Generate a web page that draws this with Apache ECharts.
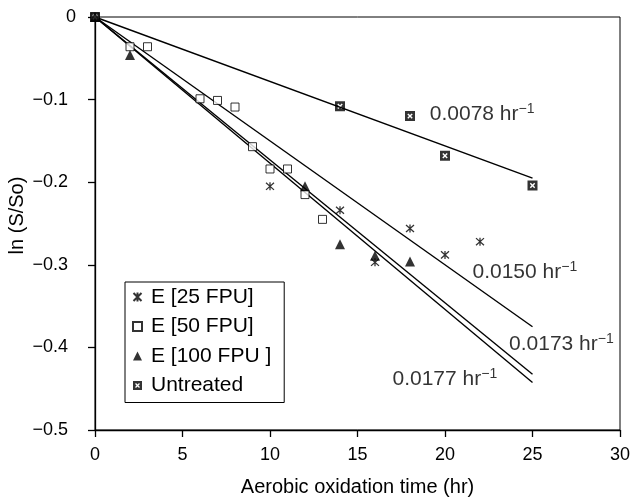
<!DOCTYPE html>
<html><head><meta charset="utf-8">
<script src="https://cdn.jsdelivr.net/npm/echarts@6/dist/echarts.min.js"></script>
<style>html,body{margin:0;padding:0;background:#fff}#c{width:632px;height:500px}</style>
</head><body><div id="c"></div>
<script>
// Data
const seriesNames = ['E [25 FPU]', 'E [50 FPU]', 'E [100 FPU ]', 'Untreated'];
const fpu25X = [0, 10, 14, 16, 18, 20, 22];
const fpu25Y = [0, -0.205, -0.234, -0.297, -0.256, -0.288, -0.272];
const fpu50X = [0, 2, 3, 6, 7, 8, 9, 10, 11, 12, 13];
const fpu50Y = [0, -0.036, -0.036, -0.099, -0.101, -0.109, -0.157, -0.184, -0.184, -0.215, -0.245];
const fpu100X = [0, 2, 12, 14, 16, 18];
const fpu100Y = [0, -0.046, -0.205, -0.275, -0.289, -0.296];
const untreatedX = [0, 14, 18, 20, 25];
const untreatedY = [0, -0.108, -0.120, -0.168, -0.204];
// Fitted lines: from (0,0) to (25, end value)
const fitStartX = 0, fitStartY = 0, fitEndX = 25;
const fitEndY = [-0.195, -0.375, -0.4325, -0.4425];
const fitRates = ['0.0078', '0.0150', '0.0173', '0.0177'];
const fitLabelX = [19.13, 21.57, 23.66, 17.0];
const fitLabelY = [-0.118, -0.309, -0.396, -0.438];
const xTickMin = 0, xTickMax = 30, xTickStep = 5;
const yTickMin = -0.5, yTickMax = 0, yTickStep = 0.1;

const FONT = 'Liberation Sans, Arial, sans-serif';
const zip = (xs, ys) => xs.map((x, i) => [x, ys[i]]);

const asteriskPath = 'path://M0 0L8 8M8 0L0 8M4 -0.5L4 8.5';
const untreatedPath = 'path://M0 0L10 0L10 10L0 10Z M4 5L2.3 6.7L3.3 7.7L5 6L6.7 7.7L7.7 6.7L6 5L7.7 3.3L6.7 2.3L5 4L3.3 2.3L2.3 3.3Z';

const series = [];
fitEndY.forEach((ey, i) => {
  series.push({
    type: 'line', name: 'fit' + i, data: [[fitStartX, fitStartY], [fitEndX, ey]],
    showSymbol: false, symbol: 'none', silent: true, z: 1,
    lineStyle: { color: '#000', width: 1.4 }
  });
});
series.push({
  type: 'scatter', name: seriesNames[0], data: zip(fpu25X, fpu25Y), z: 3,
  symbol: asteriskPath, symbolSize: 8,
  itemStyle: { color: 'rgba(0,0,0,0)', borderColor: '#000', borderWidth: 1.3 }
});
series.push({
  type: 'scatter', name: seriesNames[1], data: zip(fpu50X, fpu50Y), z: 3,
  symbol: 'rect', symbolSize: 8,
  itemStyle: { color: '#fff', borderColor: '#000', borderWidth: 1 }
});
series.push({
  type: 'scatter', name: seriesNames[2], data: zip(fpu100X, fpu100Y), z: 4,
  symbol: 'triangle', symbolSize: 10,
  itemStyle: { color: '#000' }
});
series.push({
  type: 'scatter', name: seriesNames[3], data: zip(untreatedX, untreatedY), z: 5,
  symbol: untreatedPath, symbolSize: 10,
  itemStyle: { color: '#000' }
});
series.push({
  type: 'scatter', name: 'labels', z: 6, silent: true,
  data: fitRates.map((r, i) => ({ value: [fitLabelX[i], fitLabelY[i]] })),
  symbolSize: 0,
  label: {
    show: true, position: 'right', distance: 0,
    formatter: p => '{a|' + fitRates[p.dataIndex] + ' hr}{s|\u22121}',
    rich: {
      a: { fontSize: 21, fontFamily: FONT, color: '#000', lineHeight: 24 },
      s: { fontSize: 14, fontFamily: FONT, color: '#000', verticalAlign: 'top', lineHeight: 11 }
    }
  }
});

const chart = echarts.init(document.getElementById('c'), null, { renderer: 'canvas' });
chart.setOption({
  animation: false,
  backgroundColor: '#fff',
  grid: { left: 95, right: 12, top: 17, bottom: 70, containLabel: false, outerBoundsMode: 'none',
          show: true, borderColor: '#000', borderWidth: 1, backgroundColor: 'transparent' },
  xAxis: {
    type: 'value', min: xTickMin, max: xTickMax, interval: xTickStep,
    name: 'Aerobic oxidation time (hr)', nameLocation: 'middle', nameGap: 47, nameMoveOverlap: false,
    nameTextStyle: { fontSize: 20, fontFamily: FONT, color: '#000' },
    axisLine: { show: true, onZero: false, lineStyle: { color: '#000', width: 1.3 } },
    axisTick: { show: true, length: 7, lineStyle: { color: '#000', width: 1.3 } },
    axisLabel: { fontSize: 18, fontFamily: FONT, color: '#000', margin: 16 },
    splitLine: { show: false }
  },
  yAxis: {
    type: 'value', min: yTickMin, max: yTickMax, interval: yTickStep,
    name: 'ln (S/So)', nameLocation: 'middle', nameGap: 68, nameMoveOverlap: false,
    nameTextStyle: { fontSize: 20, fontFamily: FONT, color: '#000', padding: [0, 0, 0, 16] },
    axisLine: { show: true, onZero: false, lineStyle: { color: '#000', width: 1.3 } },
    axisTick: { show: true, length: 7, lineStyle: { color: '#000', width: 1.3 } },
    axisLabel: {
      fontSize: 18, fontFamily: FONT, color: '#000', margin: 19,
      formatter: v => Math.abs(v) < 1e-9 ? '{z|0}' : '{n|' + (v < 0 ? '\u2212' : '') + Math.abs(v).toFixed(1) + '}',
      rich: {
        z: { fontSize: 18, fontFamily: FONT, color: '#000' },
        n: { fontSize: 18, fontFamily: FONT, color: '#000', padding: [0, 8, 0, 0] }
      }
    },
    splitLine: { show: false }
  },
  legend: {
    data: seriesNames, orient: 'vertical', left: 125, top: 282,
    backgroundColor: '#fff', borderColor: '#000', borderWidth: 1,
    padding: [4, 13, 6, 7], itemGap: 7.5, itemWidth: 9, itemHeight: 9,
    textStyle: { fontSize: 21, lineHeight: 22, fontFamily: FONT, color: '#000', padding: [0, 0, 0, 4] },
    selectedMode: false
  },
  series: series
});
</script></body></html>
